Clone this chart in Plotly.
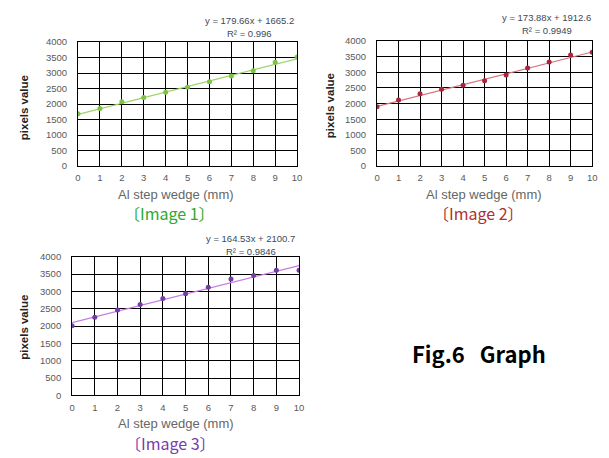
import plotly.graph_objects as go

steps = [0, 1, 2, 3, 4, 5, 6, 7, 8, 9, 10]
img1 = [1690, 1858, 2079, 2215, 2383, 2541, 2719, 2908, 3076, 3349, 3517]
img2 = [1901, 2119, 2317, 2462, 2587, 2732, 2919, 3138, 3335, 3553, 3647]
img3 = [2014, 2259, 2466, 2626, 2795, 2936, 3125, 3360, 3464, 3614, 3614]
slopes = [179.66, 173.88, 164.53]
intercepts = [1665.2, 1912.6, 2100.7]
r2 = ["0.996", "0.9949", "0.9846"]
yticks = [0, 500, 1000, 1500, 2000, 2500, 3000, 3500, 4000]
names = ["〔Image 1〕", "〔Image 2〕", "〔Image 3〕"]

W, H = 609, 458
def px(x): return x / W
def py(y): return 1 - y / H

# plot areas in pixels: (x0, x1, ytop, ybottom)
areas = [(76, 298, 37, 164), (379, 597, 36, 164), (70, 300, 257, 399)]
marker_colors = ["#7DC242", "#A8263A", "#6F3E9E"]
line_colors = ["#9BD46A", "#D9737F", "#C77BEA"]
label_colors = ["#2EA82E", "#B0302E", "#7A3BB0"]
series = [img1, img2, img3]

fig = go.Figure()
font_main = "Liberation Sans, Arial, sans-serif"
for i in range(3):
    x0, x1, yt, yb = areas[i]
    ax = "" if i == 0 else str(i + 1)
    trend = [slopes[i] * s + intercepts[i] for s in steps]
    fig.add_trace(go.Scatter(x=steps, y=trend, mode="lines",
                             line=dict(color=line_colors[i], width=1.2),
                             xaxis="x" + ax, yaxis="y" + ax, showlegend=False))
    fig.add_trace(go.Scatter(x=steps, y=series[i], mode="markers",
                             marker=dict(color=marker_colors[i], size=5),
                             xaxis="x" + ax, yaxis="y" + ax, showlegend=False))
    fig.layout["xaxis" + ax] = dict(
        domain=[px(x0), px(x1)], range=[0, 10], anchor="y" + ax,
        tickvals=steps, showgrid=True, gridcolor="black", gridwidth=1,
        showline=True, linecolor="black", linewidth=1, mirror=True,
        zeroline=False, ticks="outside", ticklen=3, tickcolor="rgba(0,0,0,0)",
        tickfont=dict(size=9.5, color="#595959", family=font_main))
    fig.layout["yaxis" + ax] = dict(
        domain=[py(yb), py(yt)], range=[0, 4000], anchor="x" + ax,
        tickvals=yticks, showgrid=True, gridcolor="black", gridwidth=1,
        showline=True, linecolor="black", linewidth=1, mirror=True,
        zeroline=False, ticks="outside", ticklen=8, tickcolor="rgba(0,0,0,0)",
        tickfont=dict(size=9.5, color="#595959", family=font_main))

ann = []
xt = [(175, 193), (487, 193), (175, 428)]
il = [(169, 212), (482, 212), (170, 448)]
yl = [(21, 104), (331, 102), (21, 329)]
eq = [(250, 15, 28), (551, 12, 25), (251, 238, 252)]
def A(x, y, text, font, **kw):
    d = dict(x=px(x), y=py(y), text=text, showarrow=False, xref="paper", yref="paper",
             xanchor="center", yanchor="middle", font=font)
    d.update(kw)
    return d
for i in range(3):
    ann.append(A(xt[i][0], xt[i][1], "Al step wedge (mm)",
                 dict(size=13, color="#666666", family=font_main)))
    ann.append(A(il[i][0], il[i][1], names[i],
                 dict(size=16, color=label_colors[i], family="Noto Sans CJK JP")))
    ann.append(A(yl[i][0], yl[i][1], "<b>pixels value</b>",
                 dict(size=11.5, color="#222222", family=font_main), textangle=-90))
    ann.append(A(eq[i][0], eq[i][1], f"y = {slopes[i]}x + {intercepts[i]}",
                 dict(size=9.5, color="#3B4A5A", family=font_main)))
    ann.append(A(eq[i][0], eq[i][2], f"R² = {r2[i]}",
                 dict(size=9.5, color="#3B4A5A", family=font_main)))
ann.append(A(482, 356, "<b>Fig.6\u00a0\u00a0\u00a0Graph</b>",
             dict(size=22, color="black", family="Noto Sans CJK JP")))

fig.update_layout(width=W, height=H, margin=dict(l=0, r=0, t=0, b=0),
                  paper_bgcolor="white", plot_bgcolor="white",
                  annotations=ann, showlegend=False)
fig.write_html("out.html")
